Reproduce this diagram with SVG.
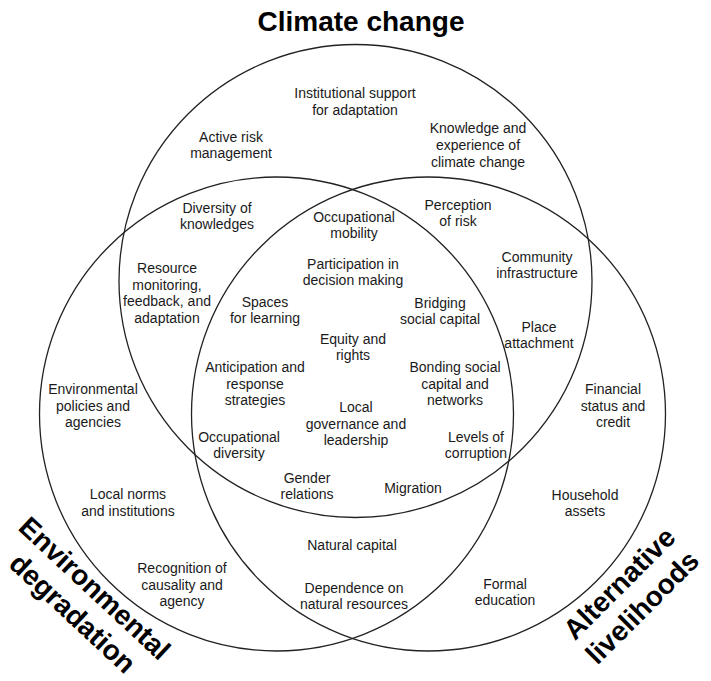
<svg xmlns="http://www.w3.org/2000/svg" width="711" height="681" viewBox="0 0 711 681">
<style>
.c{fill:none;stroke:#222;stroke-width:1.3}
.t{font-family:"Liberation Sans",Arial,sans-serif;font-size:14px;fill:#1a1a1a;text-anchor:middle}
.h{font-family:"Liberation Sans",Arial,sans-serif;font-weight:bold;fill:#000;text-anchor:middle}
</style>
<rect width="711" height="681" fill="#fff"/>
<g id="connectors">
<circle class="c" cx="355.5" cy="281" r="236.5"/>
<circle class="c" cx="276.5" cy="414" r="237"/>
<circle class="c" cx="428.5" cy="414" r="237"/>
</g>
<g id="title-climate"><text class="h" x="361" y="31" font-size="28">Climate change</text></g>
<g id="title-env"><text class="h" font-size="28" transform="translate(95,588) rotate(43)" y="10">Environmental</text><text class="h" font-size="28" transform="translate(73,613) rotate(43)" y="10">degradation</text></g>
<g id="title-alt"><text class="h" font-size="28" transform="translate(619,583) rotate(-45)" y="10">Alternative</text><text class="h" font-size="28" transform="translate(642,607) rotate(-45)" y="10">livelihoods</text></g>

<g id="n-institutional"><text class="t" x="355" y="98">Institutional support<tspan x="355" dy="17">for adaptation</tspan></text></g>
<g id="n-active"><text class="t" x="231" y="142">Active risk<tspan x="231" dy="16">management</tspan></text></g>
<g id="n-knowledge"><text class="t" x="478" y="133">Knowledge and<tspan x="478" dy="17">experience of</tspan><tspan x="478" dy="17">climate change</tspan></text></g>
<g id="n-diversity"><text class="t" x="217" y="213">Diversity of<tspan x="217" dy="16">knowledges</tspan></text></g>
<g id="n-occmob"><text class="t" x="354" y="222">Occupational<tspan x="354" dy="16">mobility</tspan></text></g>
<g id="n-perception"><text class="t" x="458" y="210">Perception<tspan x="458" dy="16">of risk</tspan></text></g>
<g id="n-community"><text class="t" x="537" y="262">Community<tspan x="537" dy="16">infrastructure</tspan></text></g>
<g id="n-participation"><text class="t" x="353" y="269">Participation in<tspan x="353" dy="16">decision making</tspan></text></g>
<g id="n-resource"><text class="t" x="167" y="273">Resource<tspan x="167" dy="16.5">monitoring,</tspan><tspan x="167" dy="16.5">feedback, and</tspan><tspan x="167" dy="16.5">adaptation</tspan></text></g>
<g id="n-spaces"><text class="t" x="265" y="307">Spaces<tspan x="265" dy="16">for learning</tspan></text></g>
<g id="n-bridging"><text class="t" x="440" y="308">Bridging<tspan x="440" dy="16">social capital</tspan></text></g>
<g id="n-place"><text class="t" x="539" y="332">Place<tspan x="539" dy="16">attachment</tspan></text></g>
<g id="n-equity"><text class="t" x="353" y="344">Equity and<tspan x="353" dy="16">rights</tspan></text></g>
<g id="n-anticipation"><text class="t" x="255" y="372">Anticipation and<tspan x="255" dy="16.5">response</tspan><tspan x="255" dy="16.5">strategies</tspan></text></g>
<g id="n-bonding"><text class="t" x="455" y="372">Bonding social<tspan x="455" dy="16.5">capital and</tspan><tspan x="455" dy="16.5">networks</tspan></text></g>
<g id="n-envpol"><text class="t" x="93" y="394">Environmental<tspan x="93" dy="16.5">policies and</tspan><tspan x="93" dy="16.5">agencies</tspan></text></g>
<g id="n-financial"><text class="t" x="613" y="394">Financial<tspan x="613" dy="16.5">status and</tspan><tspan x="613" dy="16.5">credit</tspan></text></g>
<g id="n-local"><text class="t" x="356" y="412">Local<tspan x="356" dy="16.5">governance and</tspan><tspan x="356" dy="16.5">leadership</tspan></text></g>
<g id="n-occdiv"><text class="t" x="239" y="442">Occupational<tspan x="239" dy="16">diversity</tspan></text></g>
<g id="n-levels"><text class="t" x="476" y="442">Levels of<tspan x="476" dy="16">corruption</tspan></text></g>
<g id="n-gender"><text class="t" x="307" y="483">Gender<tspan x="307" dy="15.5">relations</tspan></text></g>
<g id="n-migration"><text class="t" x="413" y="493">Migration</text></g>
<g id="n-norms"><text class="t" x="128" y="499">Local norms<tspan x="128" dy="17">and institutions</tspan></text></g>
<g id="n-household"><text class="t" x="585" y="500">Household<tspan x="585" dy="16">assets</tspan></text></g>
<g id="n-natcap"><text class="t" x="352" y="550">Natural capital</text></g>
<g id="n-recognition"><text class="t" x="182" y="573">Recognition of<tspan x="182" dy="16.5">causality and</tspan><tspan x="182" dy="16.5">agency</tspan></text></g>
<g id="n-dependence"><text class="t" x="354" y="593">Dependence on<tspan x="354" dy="15.5">natural resources</tspan></text></g>
<g id="n-formal"><text class="t" x="505" y="589">Formal<tspan x="505" dy="15.5">education</tspan></text></g>
</svg>
